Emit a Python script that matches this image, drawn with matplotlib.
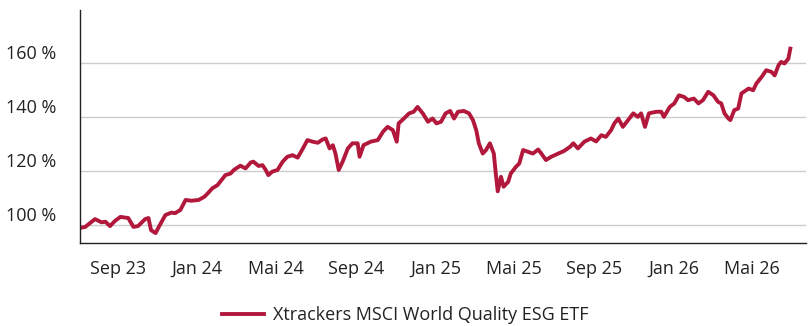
import matplotlib
matplotlib.use("Agg")
import matplotlib.pyplot as plt
import matplotlib.transforms as mtransforms
import pandas as pd

plt.rcParams["font.family"] = ["Open Sans", "DejaVu Sans"]

# Wertentwicklung in % (Startwert ~100 %)
dates = [
    "2023-07-05", "2023-07-13", "2023-07-28", "2023-08-07", "2023-08-13", "2023-08-20",
    "2023-08-28", "2023-09-05", "2023-09-17", "2023-09-25", "2023-10-02", "2023-10-13",
    "2023-10-18", "2023-10-22", "2023-10-29", "2023-11-02", "2023-11-13", "2023-11-22",
    "2023-11-28", "2023-12-06", "2023-12-14", "2023-12-23", "2024-01-03", "2024-01-12",
    "2024-01-18", "2024-01-24", "2024-02-01", "2024-02-09", "2024-02-13", "2024-02-21",
    "2024-02-26", "2024-03-07", "2024-03-15", "2024-03-23", "2024-03-27", "2024-04-04",
    "2024-04-10", "2024-04-15", "2024-04-19", "2024-04-25", "2024-05-03", "2024-05-11",
    "2024-05-18", "2024-05-26", "2024-06-03", "2024-06-11", "2024-06-18", "2024-06-26",
    "2024-07-04", "2024-07-11", "2024-07-16", "2024-07-22", "2024-07-27", "2024-07-31",
    "2024-08-05", "2024-08-11", "2024-08-19", "2024-08-26", "2024-09-03", "2024-09-06",
    "2024-09-12", "2024-09-23", "2024-10-04", "2024-10-12", "2024-10-19", "2024-10-27",
    "2024-11-02", "2024-11-05", "2024-11-13", "2024-11-21", "2024-11-28", "2024-12-04",
    "2024-12-12", "2024-12-20", "2024-12-27", "2025-01-02", "2025-01-09", "2025-01-16",
    "2025-01-23", "2025-01-29", "2025-02-04", "2025-02-13", "2025-02-21", "2025-02-27",
    "2025-03-04", "2025-03-08", "2025-03-14", "2025-03-19", "2025-03-25", "2025-03-31",
    "2025-04-03", "2025-04-06", "2025-04-11", "2025-04-15", "2025-04-22", "2025-04-26",
    "2025-05-04", "2025-05-09", "2025-05-15", "2025-05-22", "2025-05-30", "2025-06-07",
    "2025-06-11", "2025-06-19", "2025-06-27", "2025-07-08", "2025-07-17", "2025-07-26",
    "2025-07-31", "2025-08-07", "2025-08-17", "2025-08-27", "2025-09-04", "2025-09-12",
    "2025-09-19", "2025-09-27", "2025-10-02", "2025-10-08", "2025-10-15", "2025-10-23",
    "2025-10-31", "2025-11-07", "2025-11-12", "2025-11-18", "2025-11-24", "2025-12-05",
    "2025-12-13", "2025-12-17", "2025-12-26", "2026-01-02", "2026-01-09", "2026-01-17",
    "2026-01-23", "2026-02-01", "2026-02-08", "2026-02-15", "2026-02-23", "2026-03-03",
    "2026-03-10", "2026-03-15", "2026-03-20", "2026-03-26", "2026-03-29", "2026-04-04",
    "2026-04-10", "2026-04-15", "2026-04-26", "2026-05-03", "2026-05-08", "2026-05-16",
    "2026-05-23", "2026-05-31", "2026-06-05", "2026-06-11", "2026-06-15", "2026-06-20",
    "2026-06-26", "2026-06-29",
]
values = [
    98.9, 99.3, 102.2, 101.0, 101.2, 99.6,
    101.6, 103.0, 102.6, 99.3, 99.6, 102.2,
    102.6, 98.1, 97.0, 98.9, 103.7, 104.6,
    104.4, 105.6, 109.3, 109.0, 109.3, 110.5,
    112.0, 113.6, 114.8, 117.3, 118.5, 119.1,
    120.4, 122.0, 121.0, 123.2, 123.5, 121.9,
    122.2, 120.4, 118.5, 119.8, 120.4, 123.5,
    125.3, 125.9, 125.0, 128.4, 131.5, 130.9,
    130.5, 131.7, 132.1, 128.4, 129.6, 126.5,
    120.4, 123.5, 128.4, 130.3, 130.3, 125.3,
    129.6, 130.9, 131.5, 134.6, 136.4, 135.2,
    130.9, 137.7, 139.5, 141.4, 142.0, 143.8,
    141.4, 138.3, 139.5, 137.7, 138.3, 141.4,
    142.3, 139.5, 142.0, 142.3, 141.4, 138.9,
    135.2, 130.3, 126.5, 127.8, 130.3, 126.5,
    119.1, 112.5, 117.9, 114.2, 116.0, 119.1,
    121.6, 122.8, 127.8, 127.2, 126.5, 128.0,
    126.8, 124.1, 125.3, 126.5, 127.5, 129.0,
    130.3, 128.4, 130.9, 132.1, 131.0, 133.3,
    132.7, 135.2, 137.7, 139.5, 136.4, 138.9,
    141.4, 140.1, 141.4, 136.4, 141.4, 142.0,
    142.0, 140.1, 143.8, 145.1, 148.1, 147.5,
    146.3, 146.9, 145.1, 146.3, 149.4, 148.1,
    145.7, 145.1, 141.4, 139.5, 138.9, 142.6,
    143.2, 148.8, 150.6, 150.0, 152.5, 154.9,
    157.4, 156.8, 155.5, 159.3, 160.5, 159.9,
    161.7, 165.4,
]
series_name = "Xtrackers MSCI World Quality ESG ETF"

tick_dates = ["2023-09-01", "2024-01-01", "2024-05-01", "2024-09-01", "2025-01-01",
              "2025-05-01", "2025-09-01", "2026-01-01", "2026-05-01"]
tick_labels = ["Sep 23", "Jan 24", "Mai 24", "Sep 24", "Jan 25",
               "Mai 25", "Sep 25", "Jan 26", "Mai 26"]
y_ticks = [100, 120, 140, 160]

assert len(dates) == len(values)

red = "#b2183c"
text_col = "#222222"

fig = plt.figure(figsize=(8.10, 3.26), dpi=100)
ax = fig.add_axes([0.0988, 0.2546, 0.8962, 0.7148])

ax.plot(pd.to_datetime(dates), values, color=red, lw=2.8, solid_joinstyle="round",
        label=series_name)

ax.set_xlim(pd.Timestamp("2023-07-05"), pd.Timestamp("2026-07-23"))
ax.set_ylim(93.33, 179.75)

ax.set_xticks(pd.to_datetime(tick_dates))
ax.set_xticklabels(tick_labels)
ax.set_yticks(y_ticks)
ax.set_yticklabels([f"{v} %" for v in y_ticks])
ax.tick_params(axis="both", length=0, labelsize=13, colors=text_col)
ax.tick_params(axis="x", pad=12)
ax.tick_params(axis="y", pad=17)

# y-Beschriftungen sitzen etwas oberhalb der Gitterlinien
shift = mtransforms.ScaledTranslation(0, 11 / 100, fig.dpi_scale_trans)
for lbl in ax.get_yticklabels():
    lbl.set_transform(lbl.get_transform() + shift)

ax.grid(axis="y", color="#cccccc", lw=1)
ax.set_axisbelow(True)
for side in ("top", "right"):
    ax.spines[side].set_visible(False)
for side in ("left", "bottom"):
    ax.spines[side].set_color("#222222")
    ax.spines[side].set_linewidth(1)

fig.legend(loc="center", bbox_to_anchor=(0.5, 0.034), frameon=False, fontsize=13,
           handlelength=2.3, handletextpad=0.5, labelcolor=text_col)

fig.savefig("out.png", dpi=100)
